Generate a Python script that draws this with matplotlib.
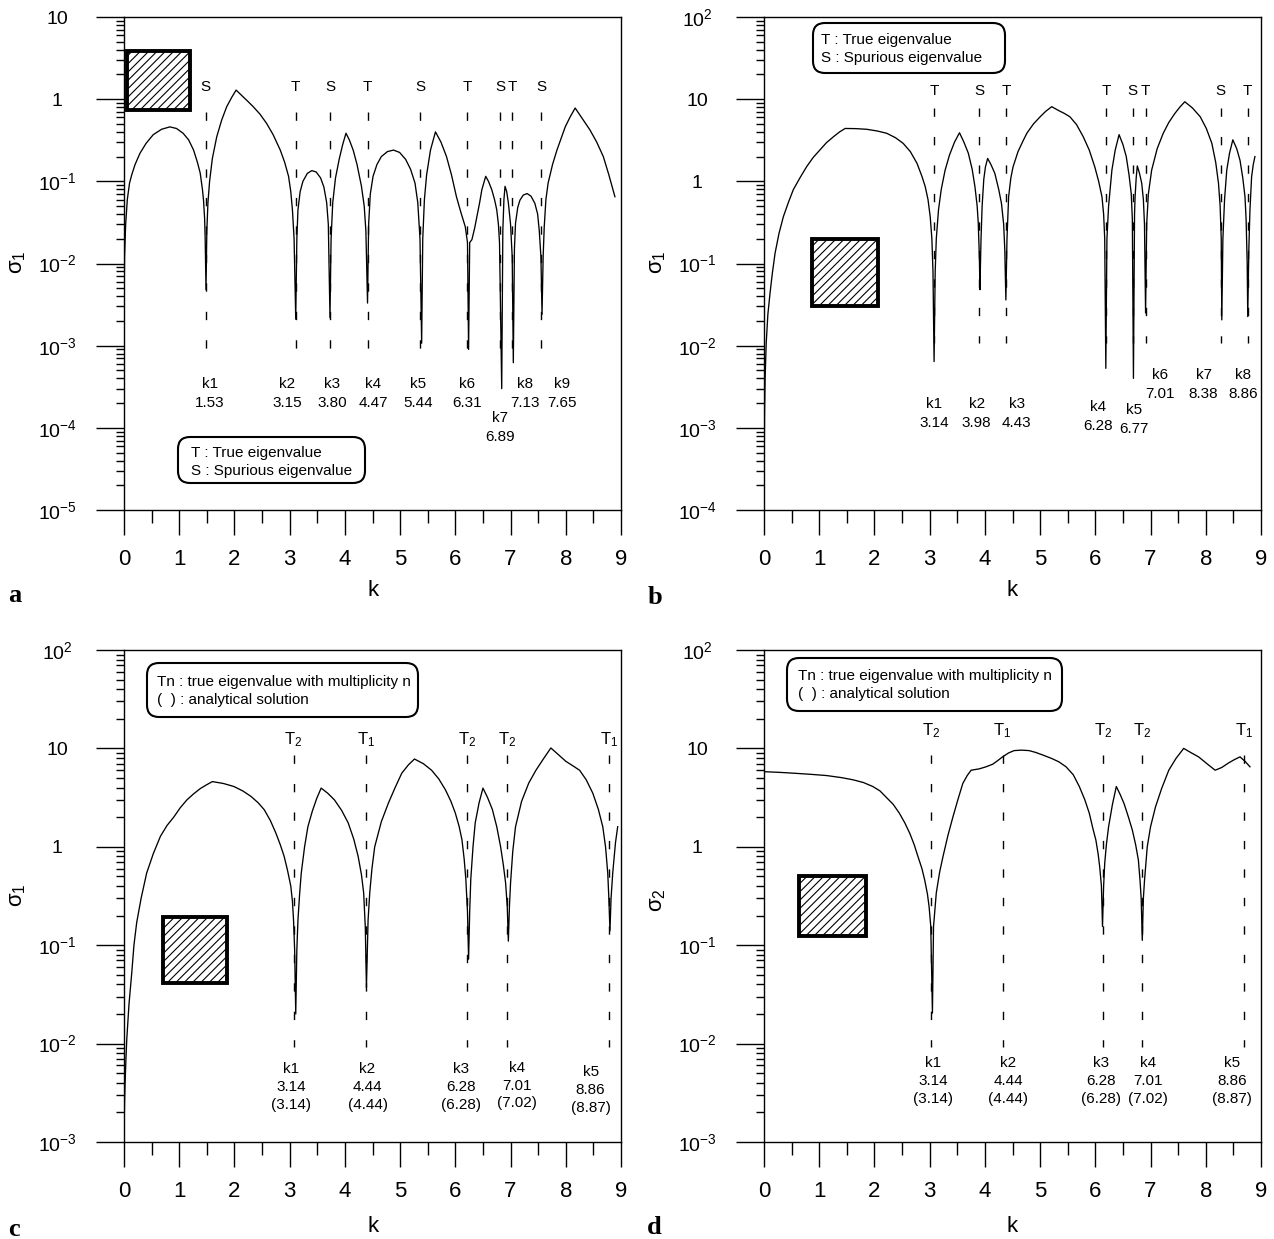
import matplotlib

matplotlib.use("Agg")
import matplotlib.pyplot as plt
import numpy as np
from matplotlib.patches import Rectangle, FancyBboxPatch
from matplotlib.transforms import Affine2D
from matplotlib.ticker import FixedLocator, FuncFormatter, MultipleLocator, NullFormatter

# ==========================================
# 1. Data
# ==========================================

# panel a : sigma_1, spurious + true eigenvalues
a_k = [0.00, 0.01, 0.03, 0.06, 0.10, 0.14, 0.20, 0.29, 0.40, 0.53,
       0.68, 0.83, 0.95, 1.07, 1.17, 1.26, 1.33, 1.38, 1.42, 1.44,
       1.46, 1.47, 1.485, 1.50, 1.52, 1.55, 1.60, 1.68, 1.77, 1.86,
       1.95, 2.03, 2.15, 2.25, 2.34, 2.46, 2.58, 2.70, 2.83, 2.91,
       2.98, 3.02, 3.05, 3.08, 3.11, 3.13, 3.15, 3.19, 3.24, 3.32,
       3.40, 3.48, 3.56, 3.62, 3.67, 3.70, 3.73, 3.75, 3.78, 3.83,
       3.90, 3.96, 4.02, 4.08, 4.15, 4.22, 4.30, 4.35, 4.38, 4.41,
       4.43, 4.46, 4.51, 4.58, 4.66, 4.77, 4.88, 4.99, 5.10, 5.19,
       5.27, 5.32, 5.36, 5.39, 5.41, 5.44, 5.48, 5.55, 5.64, 5.74,
       5.84, 5.93, 6.02, 6.10, 6.18, 6.22, 6.24, 6.26, 6.30, 6.35,
       6.39, 6.44, 6.48, 6.55, 6.60, 6.66, 6.71, 6.75, 6.78, 6.80,
       6.84, 6.86, 6.88, 6.90, 6.93, 6.96, 7.00, 7.03, 7.05, 7.07,
       7.09, 7.13, 7.17, 7.23, 7.30, 7.37, 7.44, 7.49, 7.52, 7.55,
       7.57, 7.59, 7.61, 7.64, 7.68, 7.76, 7.84, 7.92, 7.99, 8.08,
       8.17, 8.30, 8.44, 8.56, 8.68, 8.78, 8.89]
a_sigma = [2.5e-3, 0.012, 0.03, 0.06, 0.095, 0.12, 0.16, 0.22, 0.29, 0.37,
           0.43, 0.46, 0.44, 0.385, 0.32, 0.24, 0.17, 0.126, 0.08, 0.059,
           0.035, 0.02, 0.0048, 0.025, 0.055, 0.10, 0.19, 0.35, 0.56, 0.81,
           1.05, 1.29, 1.08, 0.93, 0.81, 0.66, 0.51, 0.37, 0.24, 0.17,
           0.115, 0.075, 0.045, 0.02, 0.0021, 0.02, 0.045, 0.075, 0.10, 0.125,
           0.135, 0.13, 0.11, 0.085, 0.055, 0.03, 0.0022, 0.02, 0.055, 0.11,
           0.19, 0.28, 0.385, 0.32, 0.24, 0.16, 0.087, 0.05, 0.025, 0.0033,
           0.03, 0.07, 0.115, 0.16, 0.2, 0.23, 0.24, 0.225, 0.185, 0.14,
           0.095, 0.055, 0.02, 0.00107, 0.02, 0.06, 0.12, 0.24, 0.40, 0.30,
           0.2, 0.12, 0.065, 0.042, 0.028, 0.018, 9e-4, 0.018, 0.0195, 0.027,
           0.037, 0.055, 0.079, 0.115, 0.10, 0.079, 0.06, 0.045, 0.03, 0.018,
           3e-4, 0.025, 0.06, 0.087, 0.075, 0.055, 0.03, 0.012, 6.2e-4, 0.015,
           0.031, 0.048, 0.059, 0.068, 0.071, 0.066, 0.054, 0.04, 0.025, 0.012,
           0.0024, 0.012, 0.028, 0.06, 0.095, 0.16, 0.24, 0.34, 0.46, 0.61,
           0.78, 0.58, 0.42, 0.30, 0.20, 0.12, 0.065]
a_eig_k = [1.48, 3.11, 3.73, 4.41, 5.36, 6.22, 6.81, 7.03, 7.55]
a_eig_tag = ["S", "T", "S", "T", "S", "T", "S", "T", "S"]
a_eig_val = ["1.53", "3.15", "3.80", "4.47", "5.44", "6.31", "6.89", "7.13", "7.65"]

# panel b : sigma_1
b_k = [0.00, 0.005, 0.01, 0.02, 0.04, 0.07, 0.11, 0.15, 0.20, 0.27,
       0.35, 0.44, 0.53, 0.65, 0.77, 0.89, 1.01, 1.13, 1.26, 1.37,
       1.47, 1.66, 1.86, 2.05, 2.22, 2.38, 2.52, 2.65, 2.77, 2.86,
       2.92, 2.97, 3.01, 3.04, 3.06, 3.08, 3.10, 3.12, 3.16, 3.21,
       3.28, 3.36, 3.45, 3.54, 3.62, 3.70, 3.77, 3.82, 3.86, 3.88,
       3.90, 3.91, 3.93, 3.95, 3.98, 4.01, 4.05, 4.11, 4.18, 4.25,
       4.30, 4.34, 4.36, 4.38, 4.40, 4.43, 4.47, 4.51, 4.60, 4.68,
       4.76, 4.88, 5.00, 5.10, 5.21, 5.33, 5.44, 5.54, 5.66, 5.78,
       5.89, 5.99, 6.06, 6.12, 6.15, 6.17, 6.19, 6.21, 6.24, 6.30,
       6.36, 6.43, 6.50, 6.56, 6.61, 6.65, 6.67, 6.69, 6.71, 6.72,
       6.74, 6.76, 6.80, 6.84, 6.87, 6.89, 6.91, 6.93, 6.96, 7.02,
       7.12, 7.23, 7.33, 7.44, 7.53, 7.62, 7.76, 7.90, 8.01, 8.11,
       8.18, 8.23, 8.26, 8.28, 8.29, 8.31, 8.34, 8.38, 8.43, 8.49,
       8.56, 8.62, 8.67, 8.71, 8.73, 8.75, 8.76, 8.78, 8.80, 8.83,
       8.86, 8.89]
b_sigma = [1.6e-4, 6e-4, 1.5e-3, 4e-3, 0.0107, 0.024, 0.044, 0.075, 0.133, 0.23,
           0.37, 0.55, 0.79, 1.1, 1.5, 1.95, 2.4, 2.95, 3.5, 4.0,
           4.4, 4.38, 4.3, 4.1, 3.85, 3.4, 2.9, 2.3, 1.66, 1.15,
           0.86, 0.6, 0.37, 0.2, 0.08, 6.4e-3, 0.08, 0.2, 0.45, 0.8,
           1.37, 2.1, 3.0, 3.9, 3.0, 2.2, 1.4, 0.86, 0.5, 0.31,
           0.12, 0.048, 0.2, 0.5, 1.06, 1.5, 1.9, 1.6, 1.25, 0.8,
           0.54, 0.3, 0.15, 0.036, 0.2, 0.65, 1.1, 1.5, 2.3, 3.0,
           3.85, 5.0, 6.1, 7.1, 8.1, 7.3, 6.7, 6.1, 4.9, 3.5,
           2.4, 1.5, 1.0, 0.65, 0.4, 0.2, 5.3e-3, 0.2, 0.5, 1.37,
           2.4, 3.7, 2.8, 2.0, 1.2, 0.71, 0.35, 4e-3, 0.4, 0.65,
           1.1, 1.54, 1.25, 0.95, 0.6, 0.3, 0.025, 0.3, 0.7, 1.37,
           2.5, 3.85, 5.2, 6.7, 8.0, 9.3, 7.8, 6.1, 4.4, 2.9,
           1.7, 0.95, 0.5, 0.2, 0.0206, 0.2, 0.6, 1.37, 2.2, 3.2,
           2.5, 1.8, 1.1, 0.65, 0.35, 0.1, 0.0226, 0.15, 0.45, 1.14,
           1.6, 2.0]
b_eig_k = [3.08, 3.90, 4.38, 6.19, 6.68, 6.91, 8.27, 8.76]
b_eig_tag = ["T", "S", "T", "T", "S", "T", "S", "T"]
b_eig_val = ["3.14", "3.98", "4.43", "6.28", "6.77", "7.01", "8.38", "8.86"]

# panel c : sigma_1, multiplicity
c_k = [0.00, 0.01, 0.02, 0.035, 0.05, 0.09, 0.14, 0.18, 0.23, 0.31,
       0.41, 0.53, 0.66, 0.78, 0.90, 1.02, 1.14, 1.26, 1.38, 1.49,
       1.60, 1.80, 1.99, 2.15, 2.30, 2.43, 2.54, 2.65, 2.75, 2.83,
       2.90, 2.96, 3.02, 3.05, 3.07, 3.09, 3.11, 3.13, 3.15, 3.18,
       3.21, 3.27, 3.33, 3.41, 3.49, 3.57, 3.69, 3.81, 3.94, 4.06,
       4.16, 4.24, 4.30, 4.34, 4.37, 4.39, 4.42, 4.45, 4.49, 4.54,
       4.66, 4.79, 4.91, 5.03, 5.15, 5.26, 5.42, 5.57, 5.70, 5.82,
       5.92, 6.00, 6.07, 6.12, 6.16, 6.19, 6.22, 6.24, 6.26, 6.28,
       6.32, 6.36, 6.43, 6.50, 6.58, 6.67, 6.75, 6.82, 6.87, 6.91,
       6.94, 6.96, 6.98, 7.00, 7.04, 7.09, 7.20, 7.33, 7.46, 7.60,
       7.73, 7.87, 8.00, 8.12, 8.25, 8.37, 8.49, 8.59, 8.67, 8.72,
       8.76, 8.78, 8.80, 8.82, 8.85, 8.90, 8.94]
c_sigma = [1.2e-3, 2.5e-3, 4e-3, 7e-3, 0.011, 0.025, 0.052, 0.10, 0.17, 0.30,
           0.54, 0.85, 1.28, 1.65, 2.0, 2.5, 3.0, 3.45, 3.9, 4.25,
           4.6, 4.4, 4.1, 3.7, 3.25, 2.8, 2.38, 1.85, 1.38, 1.05,
           0.80, 0.58, 0.40, 0.28, 0.18, 0.09, 0.020, 0.09, 0.18, 0.33,
           0.54, 1.0, 1.6, 2.3, 3.1, 3.95, 3.5, 3.0, 2.35, 1.75,
           1.2, 0.8, 0.52, 0.34, 0.15, 0.037, 0.18, 0.34, 0.6, 1.0,
           1.8, 2.8, 4.0, 5.6, 6.8, 7.8, 7.0, 6.0, 4.9, 3.8,
           2.9, 2.2, 1.6, 1.18, 0.75, 0.47, 0.22, 0.072, 0.22, 0.47,
           1.0, 1.75, 2.8, 3.95, 3.2, 2.4, 1.6, 1.0, 0.65, 0.43,
           0.25, 0.11, 0.25, 0.43, 0.9, 1.6, 2.9, 4.45, 6.0, 7.9,
           10.1, 8.6, 7.4, 6.7, 6.0, 4.8, 3.5, 2.4, 1.6, 1.0,
           0.54, 0.3, 0.14, 0.3, 0.54, 1.1, 1.6]
c_eig_k = [3.07, 4.38, 6.21, 6.94, 8.78]
c_eig_tag = ["$T_2$", "$T_1$", "$T_2$", "$T_2$", "$T_1$"]
c_eig_val = ["3.14", "4.44", "6.28", "7.01", "8.86"]
c_exact = ["3.14", "4.44", "6.28", "7.02", "8.87"]

# panel d : sigma_2
d_k = [0.00, 0.30, 0.53, 0.85, 1.13, 1.40, 1.61, 1.80, 1.97, 2.10,
       2.21, 2.34, 2.45, 2.55, 2.64, 2.72, 2.79, 2.86, 2.91, 2.96,
       2.99, 3.02, 3.05, 3.07, 3.12, 3.18, 3.24, 3.33, 3.42, 3.51,
       3.60, 3.68, 3.75, 3.90, 4.02, 4.14, 4.23, 4.32, 4.43, 4.53,
       4.66, 4.80, 4.92, 5.04, 5.21, 5.34, 5.47, 5.60, 5.71, 5.81,
       5.89, 5.96, 6.01, 6.05, 6.08, 6.11, 6.13, 6.15, 6.17, 6.20,
       6.24, 6.31, 6.38, 6.45, 6.52, 6.60, 6.67, 6.73, 6.78, 6.81,
       6.83, 6.85, 6.87, 6.89, 6.94, 7.00, 7.09, 7.20, 7.33, 7.46,
       7.60, 7.74, 7.87, 8.02, 8.17, 8.29, 8.41, 8.52, 8.62, 8.71,
       8.80]
d_sigma = [5.8, 5.7, 5.6, 5.45, 5.3, 5.05, 4.8, 4.5, 4.1, 3.7,
           3.2, 2.7, 2.2, 1.75, 1.37, 1.05, 0.79, 0.6, 0.46, 0.33,
           0.245, 0.155, 0.0204, 0.155, 0.34, 0.55, 0.79, 1.3, 2.0, 3.0,
           4.4, 5.3, 6.0, 6.2, 6.5, 6.9, 7.5, 8.2, 9.0, 9.5,
           9.6, 9.5, 9.1, 8.6, 7.9, 7.3, 6.5, 5.4, 4.1, 3.0,
           2.2, 1.5, 1.17, 0.85, 0.62, 0.4, 0.155, 0.4, 0.68, 1.05,
           1.6, 2.7, 4.1, 3.4, 2.75, 2.0, 1.48, 1.05, 0.73, 0.45,
           0.3, 0.112, 0.3, 0.45, 1.0, 1.6, 2.55, 3.9, 6.0, 7.9,
           10.0, 9.0, 8.2, 7.0, 6.0, 6.4, 7.1, 7.7, 8.2, 7.4,
           6.5]
d_eig_k = [3.03, 4.32, 6.14, 6.85, 8.70]
d_eig_tag = ["$T_2$", "$T_1$", "$T_2$", "$T_2$", "$T_1$"]
d_eig_val = ["3.14", "4.44", "6.28", "7.01", "8.86"]
d_exact = ["3.14", "4.44", "6.28", "7.02", "8.87"]

# ==========================================
# 2. Style
# ==========================================

plt.rcParams.update({
    "font.family": "Liberation Sans",
    "mathtext.fontset": "custom",
    "mathtext.rm": "Liberation Sans",
    "mathtext.it": "Liberation Sans:italic",
    "mathtext.bf": "Liberation Sans:bold",
    "mathtext.sf": "Liberation Sans",
    "mathtext.default": "regular",
    "lines.scale_dashes": False,
    "hatch.linewidth": 0.8,
})

W, H = 1274, 1239
fig = plt.figure(figsize=(W / 100, H / 100), dpi=100, facecolor="white")
# reference-pixel coordinates (y downwards) for decorations
PX = Affine2D().scale(1 / W, -1 / H).translate(0, 1) + fig.transFigure


def decade_label(v, pos):
    e = int(round(np.log10(v)))
    if e == 0:
        return "1"
    if e == 1:
        return "10"
    return r"$10^{%d}$" % e


def make_axes(x0, y0, x1, y1, ylo, yhi):
    ax = fig.add_axes([x0 / W, 1 - y1 / H, (x1 - x0) / W, (y1 - y0) / H])
    ax.set_yscale("log")
    ax.set_xlim(0, 9)
    ax.set_ylim(10.0 ** ylo, 10.0 ** yhi)
    decades = 10.0 ** np.arange(ylo, yhi + 1)
    ax.yaxis.set_major_locator(FixedLocator(decades))
    ax.yaxis.set_minor_locator(FixedLocator([m * d for d in decades[:-1] for m in range(2, 10)]))
    ax.yaxis.set_major_formatter(FuncFormatter(decade_label))
    ax.yaxis.set_minor_formatter(NullFormatter())
    ax.xaxis.set_major_locator(MultipleLocator(1))
    ax.xaxis.set_minor_locator(MultipleLocator(0.5))
    ax.tick_params(axis="y", which="major", direction="out", length=20, width=1.0,
                   pad=28, labelsize=14)
    ax.tick_params(axis="y", which="minor", direction="out", length=6, width=1.0)
    ax.tick_params(axis="x", which="major", direction="out", length=18, width=1.0,
                   pad=10, labelsize=16)
    ax.tick_params(axis="x", which="minor", direction="out", length=9, width=1.0)
    for lab in ax.get_yticklabels():
        lab.set_horizontalalignment("center")
    for sp in ax.spines.values():
        sp.set_linewidth(1.0)
    return ax


def draw_panel(ax, k, sigma, eig_k, eig_tag, dash_span, tag_y, tag_size,
               lab_k, lab_y, lab_text, spacing):
    assert len(k) == len(sigma)
    ax.plot(k, sigma, color="black", linewidth=0.95)
    ax.vlines(eig_k, dash_span[1], dash_span[0], colors="black", linewidth=1.0,
              linestyles=[(0, (6, 14.5))])
    for x, t in zip(eig_k, eig_tag):
        ax.text(x, tag_y, t, ha="center", va="center", fontsize=tag_size)
    for x, y, t in zip(lab_k, lab_y, lab_text):
        ax.text(x, y, t, ha="center", va="center", fontsize=11, linespacing=spacing)


def hatch_box(x0, y0, x1, y1):
    fig.add_artist(Rectangle((x0, y0), x1 - x0, y1 - y0, transform=PX,
                             facecolor="white", edgecolor="black", hatch="////",
                             linewidth=2.8, zorder=5))


def note_box(x0, y0, x1, y1, tx, ty, text, spacing):
    fig.add_artist(FancyBboxPatch((x0, y0), x1 - x0, y1 - y0,
                                  boxstyle="round,pad=0,rounding_size=12",
                                  transform=PX, facecolor="white",
                                  edgecolor="black", linewidth=1.5, zorder=5))
    fig.text(tx, ty, text, transform=PX, ha="left", va="center", fontsize=11,
             linespacing=spacing, zorder=6)


# ==========================================
# 3. Panels
# ==========================================

# --- a ---
ax_a = make_axes(124, 17, 621, 510, -5, 1)
draw_panel(ax_a, a_k, a_sigma, a_eig_k, a_eig_tag, (8.1e-4, 0.70), 1.41, 11,
           [1.56, 2.95, 3.77, 4.51, 5.32, 6.21, 6.81, 7.26, 7.93],
           [2.6e-4] * 6 + [1.02e-4] + [2.6e-4] * 2,
           [f"k{i + 1}\n{v}" for i, v in enumerate(a_eig_val)], 1.45)
hatch_box(127, 51, 190, 110)
note_box(178, 437, 365, 483, 191, 462, "T : True eigenvalue\nS : Spurious eigenvalue", 1.45)

# --- b ---
ax_b = make_axes(764, 17, 1261, 510, -4, 2)
draw_panel(ax_b, b_k, b_sigma, b_eig_k, b_eig_tag, (0.0107, 7.8), 12.6, 11,
           [3.08, 3.85, 4.58, 6.05, 6.70, 7.17, 7.96, 8.67],
           [1.5e-3, 1.5e-3, 1.5e-3, 1.39e-3, 1.25e-3, 3.37e-3, 3.37e-3, 3.37e-3],
           [f"k{i + 1}\n{v}" for i, v in enumerate(b_eig_val)], 1.45)
hatch_box(812, 239, 878, 306)
note_box(813, 23, 1005, 73, 821, 49, "T : True eigenvalue\nS : Spurious eigenvalue", 1.45)

# --- c ---
ax_c = make_axes(124, 650, 621, 1142, -3, 2)
draw_panel(ax_c, c_k, c_sigma, c_eig_k, c_eig_tag, (0.0093, 8.6), 12.2, 12,
           [3.03, 4.41, 6.11, 7.11, 8.45],
           [3.6e-3, 3.6e-3, 3.6e-3, 3.75e-3, 3.4e-3],
           [f"k{i + 1}\n{v}\n({e})" for i, (v, e) in enumerate(zip(c_eig_val, c_exact))], 1.35)
hatch_box(163, 917, 227, 983)
note_box(147, 663, 418, 717, 157, 691,
         "Tn : true eigenvalue with multiplicity n\n(  ) : analytical solution", 1.35)

# --- d ---
ax_d = make_axes(764, 650, 1261, 1142, -3, 2)
draw_panel(ax_d, d_k, d_sigma, d_eig_k, d_eig_tag, (0.0093, 8.6), 15.2, 12,
           [3.06, 4.42, 6.11, 6.95, 8.48],
           [4.2e-3] * 5,
           [f"k{i + 1}\n{v}\n({e})" for i, (v, e) in enumerate(zip(d_eig_val, d_exact))], 1.35)
hatch_box(799, 876, 866, 936)
note_box(787, 658, 1062, 711, 798, 685,
         "Tn : true eigenvalue with multiplicity n\n(  ) : analytical solution", 1.35)

# axis titles and panel letters
for x, y in [(18, 262), (658, 262), (18, 895)]:
    fig.text(x, y, r"$σ_1$", transform=PX, rotation=90, ha="center", va="center", fontsize=16)
fig.text(658, 900, r"$σ_2$", transform=PX, rotation=90, ha="center", va="center", fontsize=16)
for x, y in [(373, 591), (1012, 591), (373, 1227), (1012, 1227)]:
    fig.text(x, y, "k", transform=PX, ha="center", va="center", fontsize=16)
for x, y, s in [(15, 595, "a"), (655, 597, "b"), (14, 1229, "c"), (654, 1228, "d")]:
    fig.text(x, y, s, transform=PX, ha="center", va="center", fontsize=19,
             fontweight="bold", family="Liberation Serif")

fig.savefig("out.png", dpi=100, facecolor="white")
plt.close(fig)
